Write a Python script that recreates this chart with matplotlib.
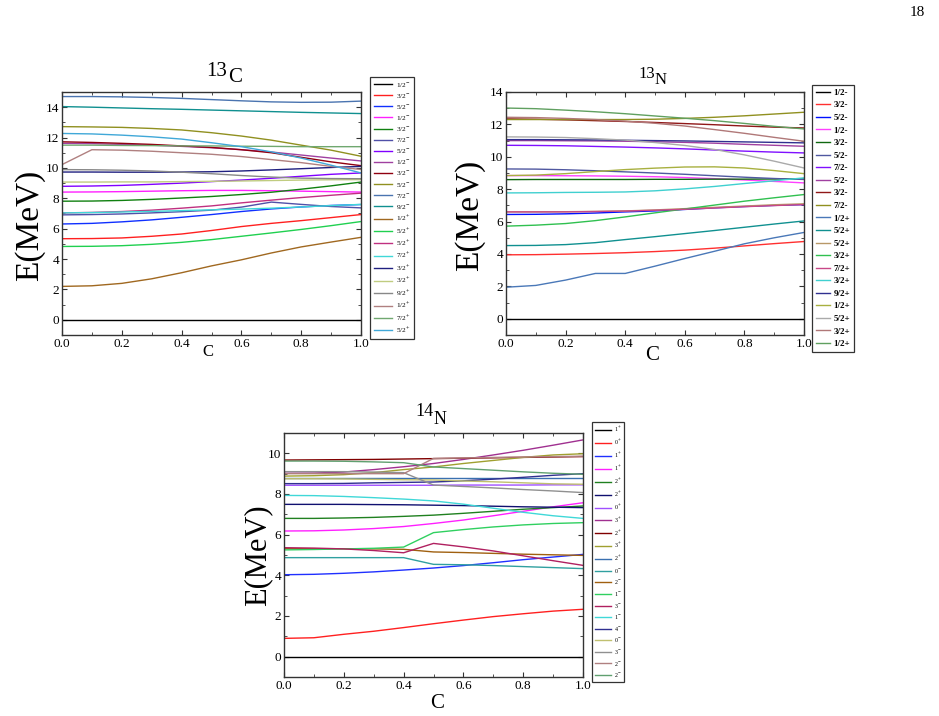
import matplotlib
matplotlib.use("Agg")
import matplotlib.pyplot as plt
from matplotlib.ticker import MultipleLocator

plt.rcParams['font.family'] = ['Liberation Serif', 'DejaVu Serif']
plt.rcParams['mathtext.fontset'] = 'stix'

# mixing parameter c
C = [0.0, 0.1, 0.2, 0.3, 0.4, 0.5, 0.6, 0.7, 0.8, 0.9, 1.0]

# ---------------- 13C ----------------
labels_13C = [r"1/2$^{-}$", r"3/2$^{-}$", r"5/2$^{-}$", r"1/2$^{-}$", r"3/2$^{-}$", r"7/2$^{-}$",
              r"5/2$^{-}$", r"1/2$^{-}$", r"3/2$^{-}$", r"5/2$^{-}$", r"7/2$^{-}$", r"9/2$^{-}$",
              r"1/2$^{+}$", r"5/2$^{+}$", r"5/2$^{+}$", r"7/2$^{+}$", r"3/2$^{+}$", r"3/2$^{+}$",
              r"9/2$^{+}$", r"1/2$^{+}$", r"7/2$^{+}$", r"5/2$^{+}$"]
colors_13C = ["#000000", "#ff2020", "#1030ff", "#ff20ff", "#108010", "#5050a8",
              "#8000ff", "#a040a0", "#900010", "#909020", "#4a74b0", "#109090",
              "#a06820", "#20d050", "#c03080", "#40d8d8", "#202080", "#c0cc80",
              "#888888", "#b08080", "#70a870", "#40a8d8"]
levels_13C = [
    [0, 0, 0, 0, 0, 0, 0, 0, 0, 0, 0],
    [5.34, 5.35, 5.39, 5.50, 5.65, 5.88, 6.14, 6.35, 6.53, 6.73, 6.93],
    [6.31, 6.35, 6.45, 6.58, 6.75, 6.93, 7.13, 7.30, 7.43, 7.53, 7.59],
    [8.41, 8.42, 8.44, 8.47, 8.50, 8.52, 8.52, 8.50, 8.47, 8.44, 8.41],
    [7.81, 7.82, 7.86, 7.93, 8.02, 8.12, 8.25, 8.40, 8.60, 8.82, 9.07],
    [6.91, 6.93, 6.97, 7.04, 7.12, 7.22, 7.42, 7.75, 7.60, 7.46, 7.37],
    [8.79, 8.81, 8.85, 8.92, 9.00, 9.10, 9.20, 9.32, 9.45, 9.58, 9.67],
    [11.62, 11.60, 11.55, 11.50, 11.42, 11.33, 11.20, 11.05, 10.85, 10.65, 10.46],
    [11.72, 11.68, 11.62, 11.55, 11.45, 11.35, 11.20, 11.00, 10.70, 10.40, 10.15],
    [12.72, 12.70, 12.67, 12.60, 12.50, 12.32, 12.10, 11.83, 11.50, 11.17, 10.77],
    [14.70, 14.70, 14.68, 14.64, 14.58, 14.50, 14.42, 14.35, 14.32, 14.33, 14.40],
    [14.04, 14.00, 13.95, 13.90, 13.86, 13.81, 13.76, 13.71, 13.66, 13.62, 13.58],
    [2.20, 2.24, 2.40, 2.70, 3.10, 3.55, 3.95, 4.40, 4.80, 5.12, 5.43],
    [4.83, 4.84, 4.88, 4.97, 5.10, 5.28, 5.50, 5.72, 5.95, 6.20, 6.47],
    [7.04, 7.07, 7.13, 7.22, 7.35, 7.50, 7.70, 7.88, 8.05, 8.20, 8.34],
    [7.04, 7.06, 7.10, 7.14, 7.19, 7.24, 7.29, 7.35, 7.43, 7.52, 7.60],
    [9.73, 9.73, 9.72, 9.72, 9.73, 9.75, 9.80, 9.87, 9.95, 10.03, 10.10],
    [9.07, 9.07, 9.08, 9.08, 9.10, 9.12, 9.14, 9.17, 9.20, 9.22, 9.23],
    [9.89, 9.88, 9.85, 9.80, 9.72, 9.62, 9.50, 9.40, 9.33, 9.30, 9.29],
    [10.22, 11.20, 11.17, 11.10, 11.00, 10.90, 10.75, 10.55, 10.35, 10.10, 9.90],
    [11.50, 11.50, 11.48, 11.47, 11.45, 11.45, 11.43, 11.42, 11.40, 11.40, 11.40],
    [12.27, 12.24, 12.16, 12.05, 11.90, 11.66, 11.40, 11.06, 10.65, 10.18, 9.67],
]

# ---------------- 13N ----------------
labels_13N = ["1/2-", "3/2-", "5/2-", "1/2-", "3/2-", "5/2-", "7/2-", "5/2-", "3/2-", "7/2-",
              "1/2+", "5/2+", "5/2+", "3/2+", "7/2+", "3/2+", "9/2+", "1/2+", "5/2+", "3/2+", "1/2+"]
colors_13N = ["#000000", "#ff3030", "#0010ff", "#ff40ff", "#106810", "#5058a0", "#8010ff",
              "#a040a0", "#901818", "#909020", "#4a78b8", "#109090", "#b89868", "#30c050",
              "#c84888", "#40d0d0", "#303090", "#a8b040", "#aaaaaa", "#b07878", "#60a060"]
levels_13N = [
    [0, 0, 0, 0, 0, 0, 0, 0, 0, 0, 0],
    [3.95, 3.96, 3.99, 4.03, 4.08, 4.15, 4.24, 4.36, 4.50, 4.64, 4.77],
    [6.44, 6.45, 6.48, 6.53, 6.60, 6.66, 6.75, 6.85, 6.93, 7.00, 7.05],
    [8.84, 8.84, 8.83, 8.82, 8.80, 8.77, 8.72, 8.65, 8.57, 8.48, 8.39],
    [8.59, 8.60, 8.60, 8.60, 8.60, 8.61, 8.61, 8.62, 8.62, 8.63, 8.63],
    [9.25, 9.24, 9.20, 9.14, 9.07, 9.00, 8.92, 8.83, 8.74, 8.66, 8.60],
    [10.71, 10.70, 10.68, 10.64, 10.60, 10.55, 10.49, 10.42, 10.35, 10.29, 10.24],
    [11.00, 11.00, 10.99, 10.98, 10.96, 10.93, 10.89, 10.84, 10.77, 10.71, 10.65],
    [12.34, 12.32, 12.28, 12.23, 12.18, 12.12, 12.05, 11.98, 11.90, 11.83, 11.78],
    [12.30, 12.30, 12.30, 12.30, 12.30, 12.32, 12.37, 12.44, 12.53, 12.64, 12.75],
    [1.95, 2.06, 2.39, 2.80, 2.80, 3.25, 3.72, 4.17, 4.63, 5.00, 5.33],
    [4.52, 4.53, 4.58, 4.70, 4.89, 5.07, 5.26, 5.45, 5.65, 5.85, 6.04],
    [6.60, 6.60, 6.61, 6.63, 6.66, 6.72, 6.80, 6.88, 6.96, 7.04, 7.10],
    [5.72, 5.78, 5.88, 6.06, 6.29, 6.54, 6.78, 7.02, 7.26, 7.47, 7.67],
    [6.60, 6.60, 6.60, 6.62, 6.65, 6.70, 6.76, 6.84, 6.92, 6.99, 7.05],
    [7.77, 7.78, 7.80, 7.81, 7.83, 7.90, 8.02, 8.17, 8.35, 8.52, 8.70],
    [11.06, 11.06, 11.05, 11.04, 11.02, 11.00, 10.98, 10.95, 10.92, 10.89, 10.86],
    [8.84, 8.87, 8.96, 9.09, 9.21, 9.30, 9.37, 9.38, 9.31, 9.15, 8.96],
    [11.23, 11.22, 11.19, 11.12, 11.03, 10.88, 10.70, 10.45, 10.12, 9.73, 9.31],
    [12.44, 12.42, 12.37, 12.30, 12.20, 12.07, 11.90, 11.68, 11.45, 11.20, 10.96],
    [13.01, 12.97, 12.88, 12.78, 12.66, 12.52, 12.38, 12.23, 12.06, 11.88, 11.72],
]

# ---------------- 14N ----------------
labels_14N = [r"1$^{+}$", r"0$^{+}$", r"1$^{+}$", r"1$^{+}$", r"2$^{+}$", r"2$^{+}$", r"0$^{+}$",
              r"3$^{+}$", r"2$^{+}$", r"3$^{+}$", r"2$^{+}$", r"0$^{-}$", r"2$^{-}$", r"1$^{-}$",
              r"3$^{-}$", r"1$^{-}$", r"4$^{-}$", r"0$^{-}$", r"3$^{-}$", r"2$^{-}$", r"2$^{-}$"]
colors_14N = ["#000000", "#ff2020", "#2030ff", "#ff20ff", "#208020", "#101070", "#a050ff",
              "#a03090", "#800000", "#a0a030", "#3a70b0", "#30a0a0", "#a06010", "#30d060",
              "#b02060", "#40d8d8", "#303090", "#c0c070", "#909090", "#b08080", "#60a070"]
levels_14N = [
    [0, 0, 0, 0, 0, 0, 0, 0, 0, 0, 0],
    [0.90, 0.93, 1.10, 1.25, 1.43, 1.62, 1.80, 1.97, 2.11, 2.24, 2.33],
    [4.03, 4.05, 4.10, 4.17, 4.26, 4.36, 4.48, 4.62, 4.77, 4.90, 5.03],
    [6.18, 6.19, 6.23, 6.30, 6.40, 6.55, 6.72, 6.93, 7.15, 7.37, 7.57],
    [6.80, 6.80, 6.82, 6.85, 6.90, 6.96, 7.05, 7.15, 7.25, 7.33, 7.41],
    [7.49, 7.49, 7.49, 7.48, 7.47, 7.45, 7.43, 7.40, 7.37, 7.35, 7.33],
    [8.43, 8.43, 8.43, 8.43, 8.43, 8.43, 8.44, 8.44, 8.44, 8.45, 8.45],
    [9.02, 9.03, 9.08, 9.20, 9.34, 9.50, 9.70, 9.92, 10.15, 10.40, 10.66],
    [9.67, 9.68, 9.69, 9.70, 9.72, 9.74, 9.76, 9.78, 9.80, 9.82, 9.84],
    [8.88, 8.90, 8.95, 9.05, 9.20, 9.33, 9.50, 9.65, 9.80, 9.92, 9.98],
    [8.80, 8.80, 8.80, 8.80, 8.80, 8.80, 8.80, 8.80, 8.80, 8.80, 8.80],
    [4.87, 4.87, 4.87, 4.87, 4.87, 4.54, 4.52, 4.48, 4.43, 4.38, 4.33],
    [5.31, 5.31, 5.31, 5.30, 5.28, 5.15, 5.12, 5.08, 5.04, 5.01, 4.98],
    [5.25, 5.27, 5.30, 5.33, 5.39, 6.10, 6.25, 6.38, 6.48, 6.55, 6.59],
    [5.36, 5.34, 5.30, 5.22, 5.11, 5.57, 5.40, 5.20, 4.96, 4.72, 4.49],
    [7.93, 7.92, 7.88, 7.82, 7.75, 7.66, 7.50, 7.30, 7.10, 6.93, 6.80],
    [8.51, 8.51, 8.52, 8.55, 8.57, 8.59, 8.65, 8.73, 8.82, 8.92, 9.00],
    [8.75, 8.75, 8.74, 8.72, 8.70, 8.69, 8.64, 8.60, 8.55, 8.50, 8.48],
    [9.10, 9.10, 9.10, 9.08, 9.05, 8.44, 8.37, 8.30, 8.22, 8.15, 8.07],
    [9.00, 9.00, 9.00, 9.00, 9.00, 9.75, 9.77, 9.80, 9.82, 9.84, 9.86],
    [9.62, 9.62, 9.61, 9.58, 9.54, 9.33, 9.25, 9.17, 9.09, 9.02, 8.97],
]

W, H = 939, 716
fig = plt.figure(figsize=(W / 100, H / 100), dpi=100)


def fx(px):
    return px / W


def fy(py):
    return 1 - py / H


def panel(box, levels, colors, labels, ylim, leg_anchor, leg_kw, leg_font):
    l, t, r, b = box
    ax = fig.add_axes([fx(l), fy(b), fx(r - l), (b - t) / H])
    handles = []
    for row, col in zip(levels, colors):
        h, = ax.plot(C, row, color=col, lw=1.0)
        handles.append(h)
    ax.set_xlim(0, 1)
    ax.set_ylim(*ylim)
    ax.xaxis.set_minor_locator(MultipleLocator(0.1))
    ax.yaxis.set_major_locator(MultipleLocator(2))
    ax.yaxis.set_minor_locator(MultipleLocator(1))
    ax.set_xticks([0, 0.2, 0.4, 0.6, 0.8, 1.0])
    ax.set_xticklabels(["0.0", "0.2", "0.4", "0.6", "0.8", "1.0"])
    ax.tick_params(which='both', direction='in', top=True, right=True,
                   labelsize=9.5, pad=2, color='#333333')
    ax.tick_params(which='major', length=3.5)
    ax.tick_params(which='minor', length=2)
    for s in ax.spines.values():
        s.set_linewidth(1.0)
        s.set_color('#333333')
    leg = ax.legend(handles, labels, loc='upper left',
                    bbox_to_anchor=(fx(leg_anchor[0]), fy(leg_anchor[1])),
                    bbox_transform=fig.transFigure, frameon=True, fancybox=False,
                    edgecolor='black', borderaxespad=0, prop=leg_font, **leg_kw)
    leg.get_frame().set_linewidth(0.9)
    return ax


ax1 = panel((62, 92, 361, 335), levels_13C, colors_13C, labels_13C, (-1, 15),
            (370, 77), dict(labelspacing=0.43, handlelength=2.6, handletextpad=0.5,
                            borderpad=0.5), {'size': 5.2})
ax2 = panel((506, 92, 804, 335), levels_13N, colors_13N, labels_13N, (-1, 14),
            (812, 85), dict(labelspacing=0.47, handlelength=1.6, handletextpad=0.4,
                            borderpad=0.4), {'size': 6.5, 'weight': 'bold'})
ax3 = panel((284, 433, 583, 677), levels_14N, colors_14N, labels_14N, (-1, 11),
            (592, 422), dict(labelspacing=0.6, handlelength=2.6, handletextpad=0.5,
                             borderpad=0.5), {'size': 4.3})

# y labels
fig.text(fx(30), fy(225), "E(MeV)", rotation=90, ha='center', va='center', fontsize=24)
fig.text(fx(470), fy(215), "E(MeV)", rotation=90, ha='center', va='center', fontsize=24)
fig.text(fx(258), fy(555), "E(MeV)", rotation=90, ha='center', va='center', fontsize=22)

# x labels
fig.text(fx(208), fy(352), "C", ha='center', va='center', fontsize=12)
fig.text(fx(652), fy(356), "C", ha='center', va='center', fontsize=15)
fig.text(fx(437), fy(703), "C", ha='center', va='center', fontsize=15)

# titles
fig.text(fx(217), fy(72), "13", ha='center', va='center', fontsize=15)
fig.text(fx(228), fy(78), "C", ha='left', va='center', fontsize=15)
fig.text(fx(647), fy(74), "13", ha='center', va='center', fontsize=12)
fig.text(fx(655), fy(80), "N", ha='left', va='center', fontsize=12)
fig.text(fx(424), fy(412), "14", ha='center', va='center', fontsize=13)
fig.text(fx(434), fy(419), "N", ha='left', va='center', fontsize=13)

# page number
fig.text(fx(917), fy(12), "18", ha='center', va='center', fontsize=11)

fig.savefig("out.png", dpi=100)
